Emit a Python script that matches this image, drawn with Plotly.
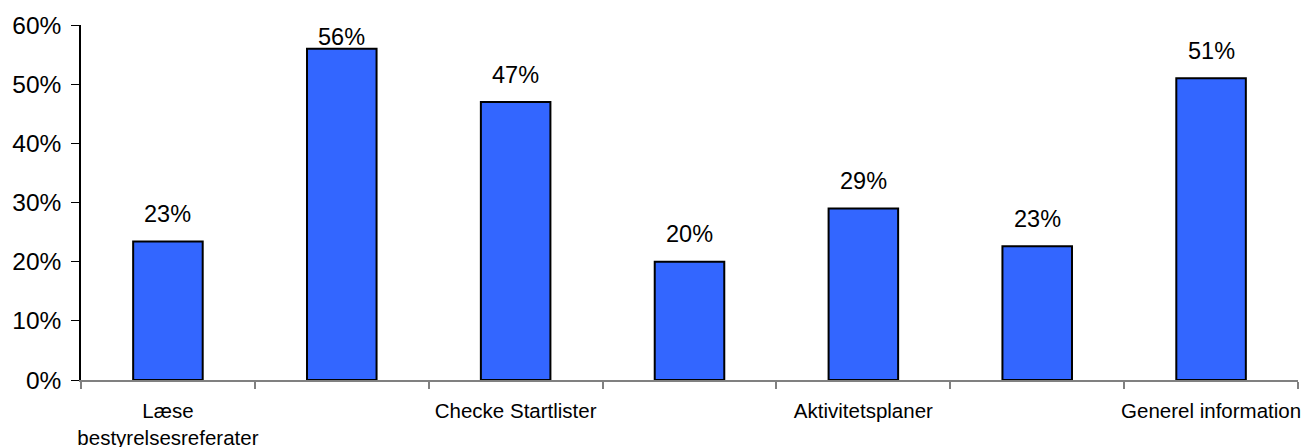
import plotly.graph_objects as go

category_labels = ["Læse<br>bestyrelsesreferater", "", "Checke Startlister", "",
                   "Aktivitetsplaner", "", "Generel information"]
values = [0.234, 0.56, 0.47, 0.20, 0.29, 0.226, 0.51]
y_ticks = [0, 0.1, 0.2, 0.3, 0.4, 0.5, 0.6]

x_pos = list(range(len(values)))
font_family = "Arial, Liberation Sans, sans-serif"

fig = go.Figure()
fig.add_trace(go.Bar(
    x=x_pos, y=values, width=0.4,
    marker=dict(color="#3366FF", line=dict(color="black", width=2)),
    hoverinfo="skip",
))

# data labels above bars, clamped inside the plot area
for xi, v in zip(x_pos, values):
    fig.add_annotation(
        x=xi, y=min(v + 0.046, 0.579), xref="x", yref="y",
        text=f"{round(v * 100)}%", showarrow=False,
        font=dict(family=font_family, size=23.5, color="black"),
        yanchor="middle",
    )

fig.update_layout(
    width=1303, height=447,
    margin=dict(l=81, r=5, t=25, b=67),
    paper_bgcolor="white", plot_bgcolor="white",
    showlegend=False,
    font=dict(family=font_family, size=20, color="black"),
    bargap=0.6,
)
fig.update_xaxes(
    range=[-0.5, 6.5], automargin=False,
    tickvals=x_pos, ticktext=category_labels,
    ticks="", showgrid=False, zeroline=False,
    showline=True, linecolor="#808080", linewidth=1.5,
    tickfont=dict(family=font_family, size=20.5),
    ticklabelstandoff=12,
    minor=dict(tickvals=[i - 0.5 for i in range(len(values) + 1)],
               ticks="outside", ticklen=7, tickcolor="#808080", tickwidth=1.5),
)
fig.update_yaxes(
    range=[0, 0.6], tickvals=y_ticks, tickformat=".0%", automargin=False,
    ticks="outside", ticklen=8, tickcolor="black", tickwidth=1,
    showgrid=False, zeroline=False,
    showline=True, linecolor="black", linewidth=1.5,
    tickfont=dict(family=font_family, size=24.5),
    ticklabelstandoff=5,
)

fig.write_html("out.html", config={"displayModeBar": False},
               post_script="document.body.style.margin='0';")
